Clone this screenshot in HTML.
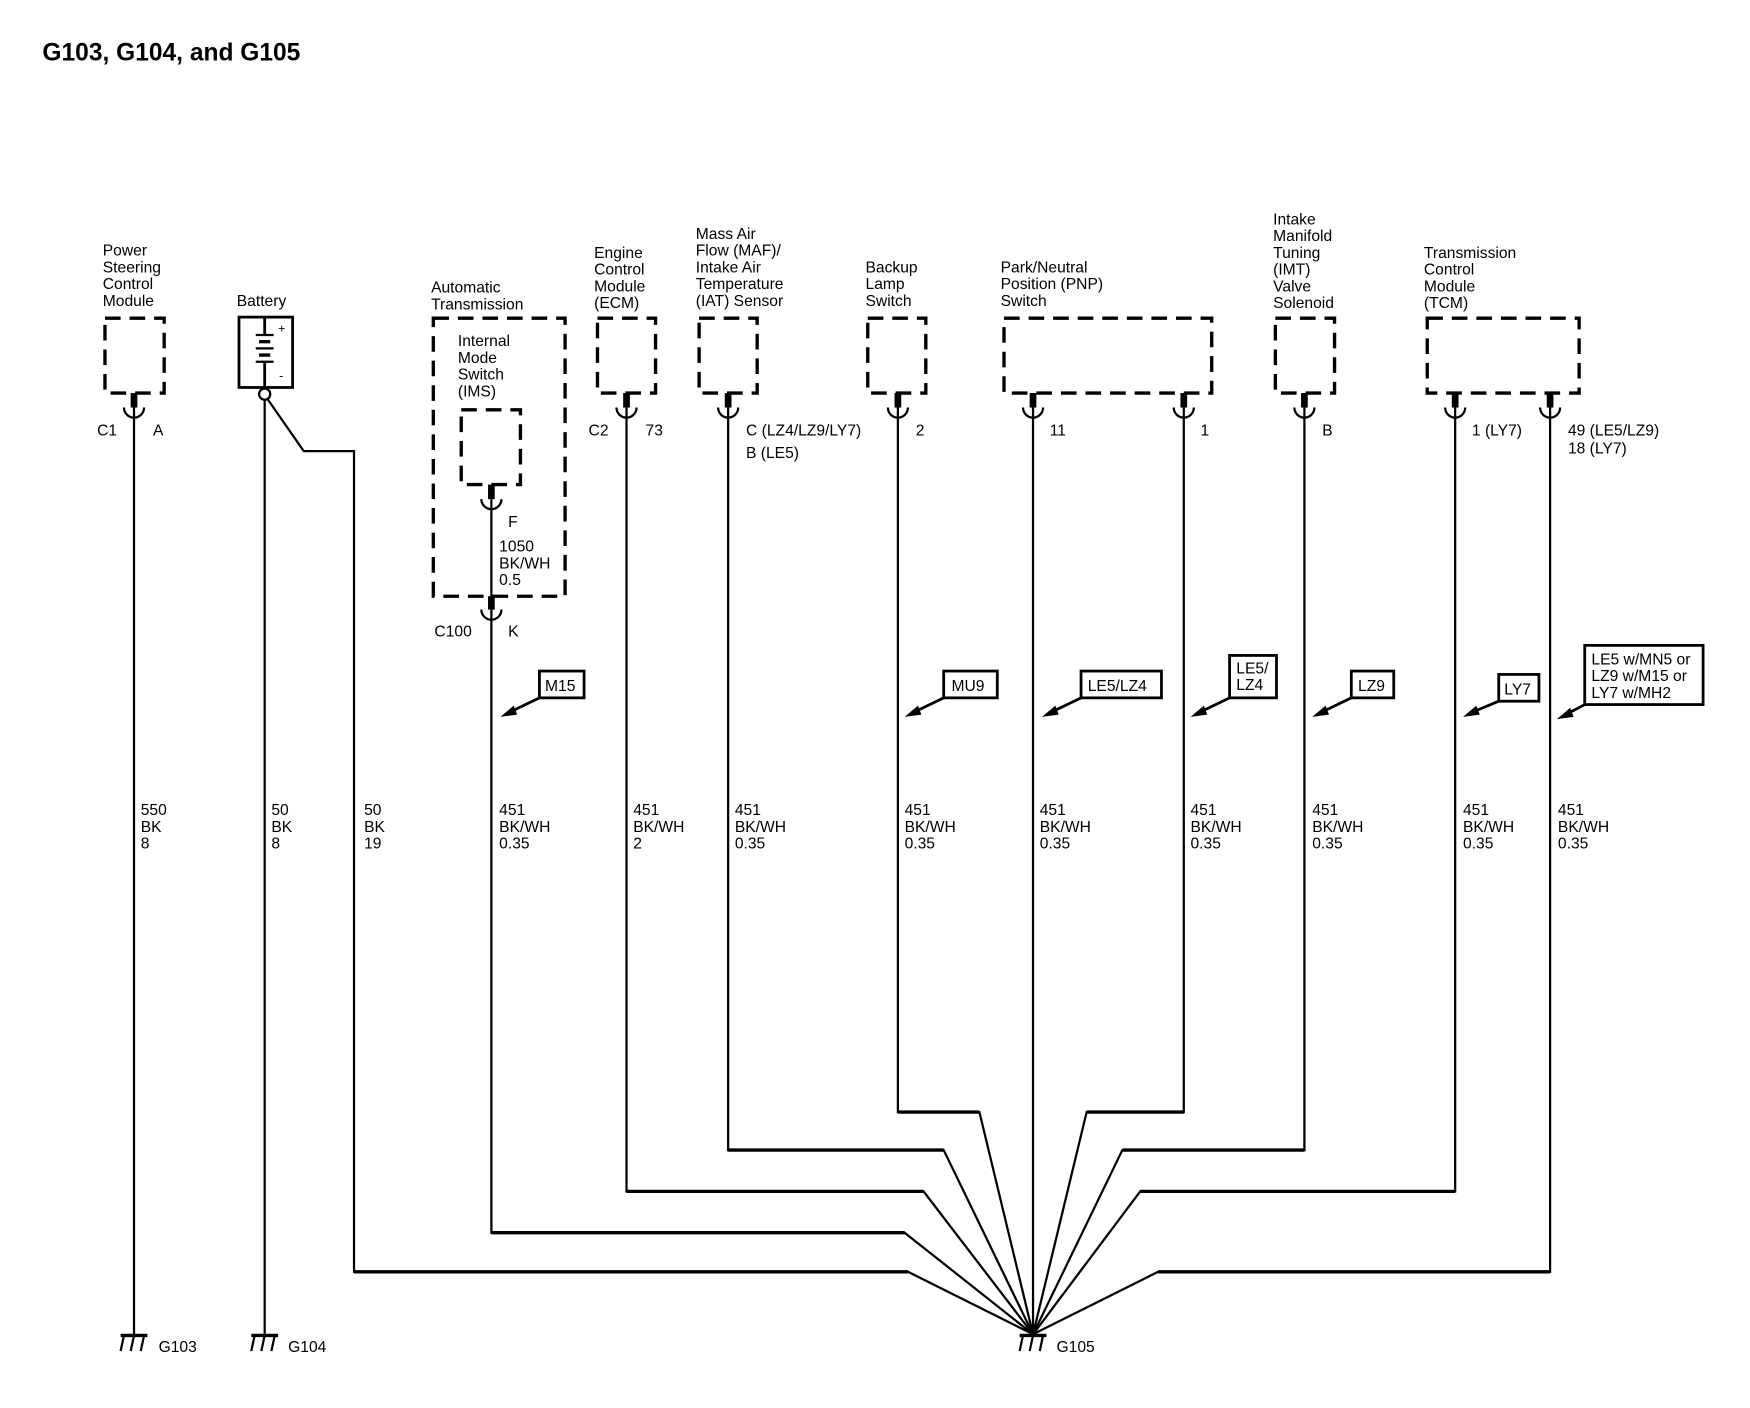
<!DOCTYPE html>
<html><head><meta charset="utf-8"><style>
html,body{margin:0;padding:0;background:#fff;}
svg{display:block;}
text{font-family:"Liberation Sans",sans-serif;font-size:14px;fill:#000;}
</style></head><body>
<svg width="1750" height="1408" viewBox="0 0 1567 1261" preserveAspectRatio="none" xmlns="http://www.w3.org/2000/svg">
<text x="38" y="54" style="font-size:22px;font-weight:bold">G103, G104, and G105</text>

<g fill="none" stroke="#000" stroke-width="3" stroke-dasharray="14 8">
<rect x="94" y="285" width="53" height="67"/>
<rect x="388" y="285" width="118" height="249"/>
<rect x="413" y="367" width="53" height="67"/>
<rect x="535" y="285" width="52" height="67"/>
<rect x="626" y="285" width="52" height="67"/>
<rect x="777" y="285" width="52" height="67"/>
<rect x="899" y="285" width="186" height="67"/>
<rect x="1142" y="285" width="53" height="67"/>
<rect x="1278" y="285" width="136" height="67"/>
</g>

<g stroke="#000" fill="none">
<rect x="214" y="284" width="48" height="63" stroke-width="2.5"/>
<line x1="237" y1="284" x2="237" y2="300" stroke-width="2.5"/>
<line x1="229" y1="300" x2="245" y2="300" stroke-width="2"/>
<line x1="232" y1="306" x2="242" y2="306" stroke-width="3"/>
<line x1="229" y1="312" x2="245" y2="312" stroke-width="2"/>
<line x1="232" y1="318" x2="242" y2="318" stroke-width="3"/>
<line x1="229" y1="324" x2="245" y2="324" stroke-width="2"/>
<line x1="237" y1="324" x2="237" y2="347" stroke-width="2.5"/>
<circle cx="237" cy="353" r="5" stroke-width="2"/>
</g>
<text x="249" y="298" style="font-size:11px">+</text>
<text x="250" y="340" style="font-size:11px">-</text>

<g fill="none" stroke="#000" stroke-width="2">
<path d="M111,365 A9,9 0 0 0 129,365"/>
<path d="M431,447 A9,9 0 0 0 449,447"/>
<path d="M431,546 A9,9 0 0 0 449,546"/>
<path d="M552,365 A9,9 0 0 0 570,365"/>
<path d="M643,365 A9,9 0 0 0 661,365"/>
<path d="M795,365 A9,9 0 0 0 813,365"/>
<path d="M916,365 A9,9 0 0 0 934,365"/>
<path d="M1051,365 A9,9 0 0 0 1069,365"/>
<path d="M1159,365 A9,9 0 0 0 1177,365"/>
<path d="M1294,365 A9,9 0 0 0 1312,365"/>
<path d="M1379,365 A9,9 0 0 0 1397,365"/>
</g>
<g fill="#000">
<rect x="117" y="352" width="6" height="13"/>
<rect x="437" y="434" width="6" height="13"/>
<rect x="437" y="534" width="6" height="12"/>
<rect x="558" y="352" width="6" height="13"/>
<rect x="649" y="352" width="6" height="13"/>
<rect x="801" y="352" width="6" height="13"/>
<rect x="922" y="352" width="6" height="13"/>
<rect x="1057" y="352" width="6" height="13"/>
<rect x="1165" y="352" width="6" height="13"/>
<rect x="1300" y="352" width="6" height="13"/>
<rect x="1385" y="352" width="6" height="13"/>
</g>

<g fill="none" stroke="#000" stroke-width="2" stroke-linejoin="miter">
<line x1="120" y1="365" x2="120" y2="1196"/>
<line x1="237" y1="358" x2="237" y2="1196"/>
<polyline points="240,358 272,404 317,404 317,1139 813,1139 925,1195"/>
<line x1="440" y1="447" x2="440" y2="534"/>
<polyline points="440,546 440,1104 810,1104 925,1195"/>
<polyline points="561,365 561,1067 827,1067 925,1195"/>
<polyline points="652,365 652,1030 845,1030 925,1195"/>
<polyline points="804,365 804,996 877,996 925,1195"/>
<line x1="925" y1="365" x2="925" y2="1195"/>
<polyline points="1060,365 1060,996 973,996 925,1195"/>
<polyline points="1168,365 1168,1030 1005,1030 925,1195"/>
<polyline points="1303,365 1303,1067 1021,1067 925,1195"/>
<polyline points="1388,365 1388,1139 1037,1139 925,1195"/>
</g>
<g stroke="#000" stroke-width="3" fill="none">
<line x1="317" y1="1139" x2="813" y2="1139"/><line x1="1037" y1="1139" x2="1388" y2="1139"/>
<line x1="440" y1="1104" x2="810" y2="1104"/>
<line x1="561" y1="1067" x2="827" y2="1067"/><line x1="1021" y1="1067" x2="1303" y2="1067"/>
<line x1="652" y1="1030" x2="845" y2="1030"/><line x1="1005" y1="1030" x2="1168" y2="1030"/>
<line x1="804" y1="996" x2="877" y2="996"/><line x1="973" y1="996" x2="1060" y2="996"/>
</g>

<g stroke="#000" fill="none">
<line x1="108" y1="1196" x2="132" y2="1196" stroke-width="3"/>
<path d="M111,1196 l-3,14 M120,1196 l-3,14 M129,1196 l-3,14" stroke-width="2"/>
<line x1="225" y1="1196" x2="249" y2="1196" stroke-width="3"/>
<path d="M228,1196 l-3,14 M237,1196 l-3,14 M246,1196 l-3,14" stroke-width="2"/>
<line x1="913" y1="1196" x2="937" y2="1196" stroke-width="3"/>
<path d="M916,1196 l-3,14 M925,1196 l-3,14 M934,1196 l-3,14" stroke-width="2"/>
</g>
<text x="142" y="1211">G103</text>
<text x="258" y="1211">G104</text>
<text x="946" y="1211">G105</text>

<g fill="none" stroke="#000" stroke-width="2.5">
<rect x="483" y="601" width="40" height="24"/>
<rect x="845" y="601" width="48" height="24"/>
<rect x="968" y="601" width="72" height="24"/>
<rect x="1101" y="587" width="42" height="38"/>
<rect x="1210" y="601" width="38" height="24"/>
<rect x="1342" y="604" width="36" height="24"/>
<rect x="1419" y="578" width="106" height="53"/>
<path d="M483,625 L456,638 M845,625 L818,638 M968,625 L941,638 M1101,625 L1074,638 M1210,625 L1183,638 M1342,628 L1318,638 M1419,631 L1402,640"/>
</g>
<g fill="#000">
<path d="M448,642 l12,-10 l3,8z"/>
<path d="M810,642 l12,-10 l3,8z"/>
<path d="M933,642 l12,-10 l3,8z"/>
<path d="M1066,642 l12,-10 l3,8z"/>
<path d="M1175,642 l12,-10 l3,8z"/>
<path d="M1310,642 l12,-10 l3,8z"/>
<path d="M1394,644 l12,-10 l3,8z"/>
</g>
<text x="488" y="619">M15</text>
<text x="852" y="619">MU9</text>
<text x="974" y="619">LE5/LZ4</text>
<text x="1107" y="603">LE5/</text><text x="1107" y="618">LZ4</text>
<text x="1216" y="619">LZ9</text>
<text x="1347" y="622">LY7</text>
<text x="1425" y="595">LE5 w/MN5 or</text>
<text x="1425" y="610">LZ9 w/M15 or</text>
<text x="1425" y="625">LY7 w/MH2</text>

<g>
<text x="92" y="229">Power</text><text x="92" y="244">Steering</text><text x="92" y="259">Control</text><text x="92" y="274">Module</text>
<text x="212" y="274">Battery</text>
<text x="386" y="262">Automatic</text><text x="386" y="277">Transmission</text>
<text x="410" y="310">Internal</text><text x="410" y="325">Mode</text><text x="410" y="340">Switch</text><text x="410" y="355">(IMS)</text>
<text x="532" y="231">Engine</text><text x="532" y="246">Control</text><text x="532" y="261">Module</text><text x="532" y="276">(ECM)</text>
<text x="623" y="214">Mass Air</text><text x="623" y="229">Flow (MAF)/</text><text x="623" y="244">Intake Air</text><text x="623" y="259">Temperature</text><text x="623" y="274">(IAT) Sensor</text>
<text x="775" y="244">Backup</text><text x="775" y="259">Lamp</text><text x="775" y="274">Switch</text>
<text x="896" y="244">Park/Neutral</text><text x="896" y="259">Position (PNP)</text><text x="896" y="274">Switch</text>
<text x="1140" y="201">Intake</text><text x="1140" y="216">Manifold</text><text x="1140" y="231">Tuning</text><text x="1140" y="246">(IMT)</text><text x="1140" y="261">Valve</text><text x="1140" y="276">Solenoid</text>
<text x="1275" y="231">Transmission</text><text x="1275" y="246">Control</text><text x="1275" y="261">Module</text><text x="1275" y="276">(TCM)</text>
</g>

<g>
<text x="87" y="390">C1</text><text x="137" y="390">A</text>
<text x="527" y="390">C2</text><text x="578" y="390">73</text>
<text x="668" y="390">C (LZ4/LZ9/LY7)</text><text x="668" y="410">B (LE5)</text>
<text x="820" y="390">2</text>
<text x="940" y="390">11</text>
<text x="1075" y="390">1</text>
<text x="1184" y="390">B</text>
<text x="1318" y="390">1 (LY7)</text>
<text x="1404" y="390">49 (LE5/LZ9)</text><text x="1404" y="406">18 (LY7)</text>
<text x="455" y="472">F</text>
<text x="447" y="494">1050</text><text x="447" y="509">BK/WH</text><text x="447" y="524">0.5</text>
<text x="389" y="570">C100</text><text x="455" y="570">K</text>
</g>

<g>
<text x="126" y="730">550</text><text x="126" y="745">BK</text><text x="126" y="760">8</text>
<text x="243" y="730">50</text><text x="243" y="745">BK</text><text x="243" y="760">8</text>
<text x="326" y="730">50</text><text x="326" y="745">BK</text><text x="326" y="760">19</text>
<text x="447" y="730">451</text><text x="447" y="745">BK/WH</text><text x="447" y="760">0.35</text>
<text x="567" y="730">451</text><text x="567" y="745">BK/WH</text><text x="567" y="760">2</text>
<text x="658" y="730">451</text><text x="658" y="745">BK/WH</text><text x="658" y="760">0.35</text>
<text x="810" y="730">451</text><text x="810" y="745">BK/WH</text><text x="810" y="760">0.35</text>
<text x="931" y="730">451</text><text x="931" y="745">BK/WH</text><text x="931" y="760">0.35</text>
<text x="1066" y="730">451</text><text x="1066" y="745">BK/WH</text><text x="1066" y="760">0.35</text>
<text x="1175" y="730">451</text><text x="1175" y="745">BK/WH</text><text x="1175" y="760">0.35</text>
<text x="1310" y="730">451</text><text x="1310" y="745">BK/WH</text><text x="1310" y="760">0.35</text>
<text x="1395" y="730">451</text><text x="1395" y="745">BK/WH</text><text x="1395" y="760">0.35</text>
</g>
</svg>
</body></html>
